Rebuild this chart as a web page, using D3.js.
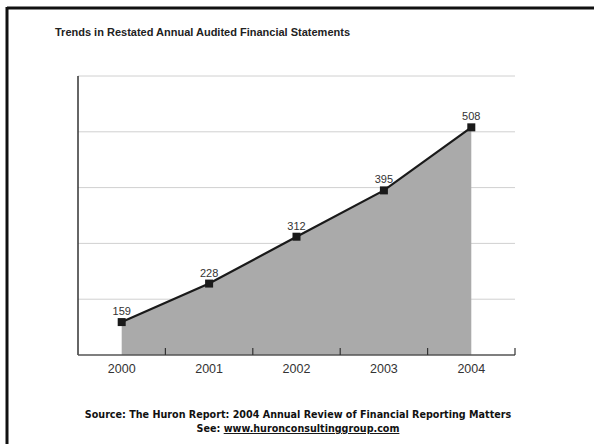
<!DOCTYPE html>
<html>
<head>
<meta charset="utf-8">
<script src="https://cdn.jsdelivr.net/npm/d3@7"></script>
<style>
  html, body { margin: 0; padding: 0; background: #fff; }
  svg { display: block; }
</style>
</head>
<body>
<svg id="chart" width="594" height="444"></svg>
<script>
// Restated annual audited financial statements, by year
const years = ["2000", "2001", "2002", "2003", "2004"];
const restatements = [159, 228, 312, 395, 508];
const gridValues = [200, 300, 400, 500, 600];

const svg = d3.select("#chart");
const W = 594, H = 444;
const margin = { left: 78, right: 79, top: 76, bottom: 89 };

const x = d3.scaleBand().domain(years).range([margin.left, W - margin.right]).padding(0);
const y = d3.scaleLinear().domain([100, 600]).range([H - margin.bottom, margin.top]);

// page frame: heavy rule along top and left
svg.append("line").attr("x1", 7).attr("x2", W).attr("y1", 8).attr("y2", 8)
  .attr("stroke", "#111").attr("stroke-width", 3);
svg.append("line").attr("x1", 7).attr("x2", 7).attr("y1", 7).attr("y2", H)
  .attr("stroke", "#111").attr("stroke-width", 3);

// title
svg.append("text").attr("x", 55).attr("y", 36)
  .attr("font-family", "Liberation Sans, Arial, sans-serif")
  .attr("font-size", 11).attr("font-weight", "bold").attr("fill", "#222")
  .text("Trends in Restated Annual Audited Financial Statements");

// horizontal gridlines
svg.append("g").selectAll("line").data(gridValues).join("line")
  .attr("x1", margin.left).attr("x2", W - margin.right)
  .attr("y1", d => y(d)).attr("y2", d => y(d))
  .attr("stroke", "#d0d0d0").attr("stroke-width", 1);

const cx = d => x(d) + x.bandwidth() / 2;

// shaded area under the series
const area = d3.area()
  .x((d, i) => cx(years[i]))
  .y0(y(100))
  .y1(d => y(d));
svg.append("path").datum(restatements).attr("d", area).attr("fill", "#aaaaaa");

// series line
const line = d3.line().x((d, i) => cx(years[i])).y(d => y(d));
svg.append("path").datum(restatements).attr("d", line)
  .attr("fill", "none").attr("stroke", "#1a1a1a").attr("stroke-width", 2.2);

// square markers
const ms = 8;
svg.append("g").selectAll("rect").data(restatements).join("rect")
  .attr("x", (d, i) => cx(years[i]) - ms / 2)
  .attr("y", d => y(d) - ms / 2)
  .attr("width", ms).attr("height", ms)
  .attr("fill", "#1a1a1a");

// value labels
svg.append("g").selectAll("text").data(restatements).join("text")
  .attr("x", (d, i) => cx(years[i]))
  .attr("y", d => y(d) - 7)
  .attr("text-anchor", "middle")
  .attr("font-family", "Liberation Sans, Arial, sans-serif")
  .attr("font-size", 11).attr("fill", "#333")
  .text(d => d);

// y axis line
svg.append("line").attr("x1", margin.left).attr("x2", margin.left)
  .attr("y1", y(600)).attr("y2", y(100))
  .attr("stroke", "#333").attr("stroke-width", 1.5);

// x axis with inward ticks at band edges
const xAxis = svg.append("g").attr("transform", `translate(0,${y(100)})`);
xAxis.append("line").attr("x1", margin.left).attr("x2", W - margin.right)
  .attr("y1", 0).attr("y2", 0).attr("stroke", "#555").attr("stroke-width", 1.5);
xAxis.selectAll("line.tick").data(years.slice(1).concat(["end"])).join("line")
  .attr("class", "tick")
  .attr("x1", d => d === "end" ? W - margin.right : x(d))
  .attr("x2", d => d === "end" ? W - margin.right : x(d))
  .attr("y1", 0).attr("y2", -7)
  .attr("stroke", "#333").attr("stroke-width", 1.2);
xAxis.selectAll("text").data(years).join("text")
  .attr("x", d => cx(d)).attr("y", 18)
  .attr("text-anchor", "middle")
  .attr("font-family", "Liberation Sans, Arial, sans-serif")
  .attr("font-size", 12.5).attr("fill", "#333")
  .text(d => d);

// source note
const note = svg.append("g")
  .attr("font-family", "DejaVu Sans, Verdana, sans-serif")
  .attr("font-size", 9.6).attr("font-weight", "bold").attr("fill", "#111")
  .attr("text-anchor", "middle");
note.append("text").attr("x", 298).attr("y", 418)
  .text("Source: The Huron Report: 2004 Annual Review of Financial Reporting Matters");
const see = note.append("text").attr("x", 298).attr("y", 432);
see.append("tspan").text("See: ");
see.append("tspan").attr("text-decoration", "underline").text("www.huronconsultinggroup.com");
</script>
</body>
</html>
